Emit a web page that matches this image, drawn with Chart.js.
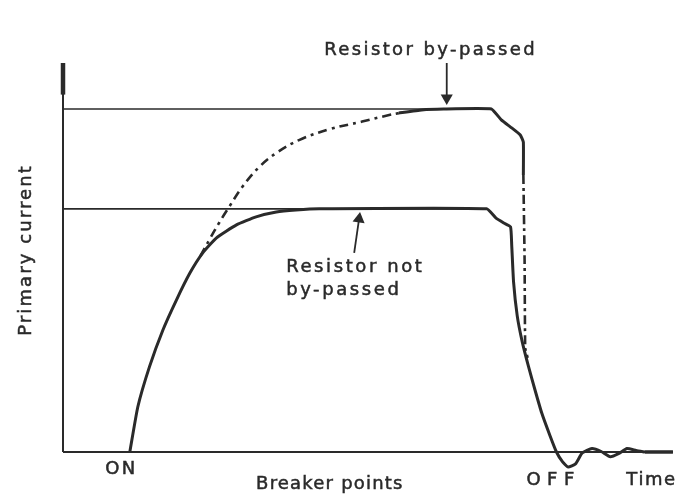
<!DOCTYPE html>
<html lang="en">
<head>
    <meta charset="UTF-8">
    <title>Primary current</title>
    <style>
        body {
            margin: 0;
            background-color: #fff;
        }
        .wrap {
            width: 683px;
            height: 500px;
        }
    </style>
    <script src="https://cdn.jsdelivr.net/npm/chart.js"></script>
</head>
<body>
    <div class="wrap"><canvas id="ignition"></canvas></div>

    <script>
        // Time runs 0..100, current is scaled so the plateau without by-pass sits at 100
        const notBypassedTime    = [10.9, 12.2, 14.1, 16.3, 18.5, 20.7, 22.8, 25.0, 28.3, 31.5, 34.8, 38.0, 41.8, 69.1, 70.6, 71.9, 73.0, 73.2, 73.5, 74.1, 74.9, 75.9, 77.0, 78.1, 79.4, 80.5, 81.5, 82.4, 83.6, 84.7, 86.3, 87.8, 89.3, 90.7, 92.0, 93.5, 94.9];
        const notBypassedCurrent = [0, 18.5, 35.0, 50.2, 62.5, 73.6, 81.9, 88.0, 93.4, 96.7, 98.7, 99.5, 100, 100, 96.3, 94.2, 92.6, 85.1, 70.0, 56.0, 45.5, 35.5, 25.5, 16.0, 7.0, 0, -4.1, -6.2, -4.9, -0.4, 1.4, 0.2, -2.0, -0.6, 1.4, 0.6, 0];

        // by-passed curve: dashed rise, solid top, dashed fall
        const riseTime       = [22.4, 23.9, 25.5, 27.2, 29.3, 32.0, 34.8, 38.5, 43.4, 48.8, 53.2, 54.8];
        const riseCurrent    = [80.6, 87.4, 94.4, 101.2, 109.2, 117.2, 123.0, 128.3, 132.7, 135.9, 138.6, 139.4];
        const topTime        = [54.8, 58.5, 62.1, 69.9, 71.5, 73.2, 74.6, 75.1, 75.1];
        const topCurrent     = [139.4, 140.7, 141.1, 141.1, 136.6, 133.3, 130.4, 127.5, 113.9];
        const fallTime       = [75.1, 75.3, 75.4, 75.8];
        const fallCurrent    = [113.9, 79.0, 42.8, 38.7];

        // steady levels for the two cases
        const levelEnd   = [69.1, 69.9];
        const levelValue = [100, 141.1];

        const axisEnd = [99.5, 160];

        const ink = '#2a2a2a';

        function pts(xs, ys) {
            return xs.map((x, i) => ({ x: x, y: ys[i] }));
        }

        function plain(data, width, extra) {
            return Object.assign({
                data: data,
                borderColor: ink,
                borderWidth: width,
                pointRadius: 0,
                tension: 0,
                fill: false
            }, extra || {});
        }

        // text placed in chart units
        const notes = [
            { text: 'Resistor by-passed', x: 42.6, y: 163.3, spacing: 2.4 },
            { text: 'Resistor not', x: 36.4, y: 74.0, spacing: 2.6 },
            { text: 'by-passed', x: 36.4, y: 64.6, spacing: 2.6 },
            { text: 'ON', x: 6.9, y: -9.0, spacing: 2.2 },
            { text: 'Breaker points', x: 31.5, y: -15.2, spacing: 1.2 },
            { text: 'OFF', x: 75.6, y: -13.6, spacing: 6.5 },
            { text: 'Time', x: 91.9, y: -13.6, spacing: 1.6 },
            { text: 'Primary current', x: -5.2, y: 83.1, spacing: 2.1, rotate: true }
        ];

        const notesPlugin = {
            id: 'notes',
            afterDraw(chart) {
                const ctx = chart.ctx;
                const xs = chart.scales.x;
                const ys = chart.scales.y;
                ctx.save();
                ctx.fillStyle = ink;
                ctx.strokeStyle = ink;
                ctx.lineWidth = 0.5;
                ctx.font = '18px "DejaVu Sans"';
                ctx.textBaseline = 'alphabetic';
                notes.forEach(n => {
                    ctx.letterSpacing = n.spacing + 'px';
                    const px = xs.getPixelForValue(n.x);
                    const py = ys.getPixelForValue(n.y);
                    if (n.rotate) {
                        ctx.save();
                        ctx.translate(px, py);
                        ctx.rotate(-Math.PI / 2);
                        ctx.textAlign = 'center';
                        ctx.fillText(n.text, 0, 0);
                        ctx.strokeText(n.text, 0, 0);
                        ctx.restore();
                    } else {
                        ctx.textAlign = 'left';
                        ctx.fillText(n.text, px, py);
                        ctx.strokeText(n.text, px, py);
                    }
                });
                ctx.restore();
            }
        };

        new Chart(document.getElementById('ignition'), {
            type: 'line',
            data: {
                datasets: [
                    // axes
                    plain([{ x: 0, y: 0 }, { x: axisEnd[0], y: 0 }], 2, { clip: false }),
                    plain([{ x: 0, y: 0 }, { x: 0, y: axisEnd[1] }], 2, { clip: false }),
                    plain([{ x: 0, y: 147 }, { x: 0, y: axisEnd[1] }], 4.5, { clip: false }),
                    plain([{ x: 94.9, y: 0 }, { x: axisEnd[0], y: 0 }], 3.5, { clip: false }),
                    // steady level lines
                    plain([{ x: 0, y: levelValue[0] }, { x: levelEnd[0], y: levelValue[0] }], 1.6),
                    plain([{ x: 0, y: levelValue[1] }, { x: levelEnd[1], y: levelValue[1] }], 1.6),
                    // resistor not by-passed
                    plain(pts(notBypassedTime, notBypassedCurrent), 3, { tension: 0.15, clip: false }),
                    // resistor by-passed
                    plain(pts(riseTime, riseCurrent), 2.6, { tension: 0.4, borderDash: [9, 5, 3, 5] }),
                    plain(pts(topTime, topCurrent), 3, { tension: 0.1 }),
                    plain(pts(fallTime, fallCurrent), 2.6, { tension: 0.1, borderDash: [9, 4, 3, 4] }),
                    // pointer arrows
                    plain([{ x: 62.6, y: 160 }, { x: 62.6, y: 145.6 }], 1.8, {
                        clip: false,
                        pointRadius: [0, 7],
                        pointStyle: 'triangle',
                        pointRotation: 180,
                        pointBackgroundColor: ink,
                        pointBorderWidth: 0
                    }),
                    plain([{ x: 47.5, y: 81.9 }, { x: 48.3, y: 95.9 }], 1.8, {
                        clip: false,
                        pointRadius: [0, 7],
                        pointStyle: 'triangle',
                        pointRotation: 8,
                        pointBackgroundColor: ink,
                        pointBorderWidth: 0
                    })
                ]
            },
            options: {
                responsive: true,
                maintainAspectRatio: false,
                animation: false,
                layout: {
                    padding: { left: 63, right: 5, top: 63, bottom: 23.7 }
                },
                plugins: {
                    legend: { display: false },
                    tooltip: { enabled: false }
                },
                scales: {
                    x: { type: 'linear', min: 0, max: 100, display: false },
                    y: { type: 'linear', min: -10, max: 160, display: false }
                }
            },
            plugins: [notesPlugin]
        });
    </script>
</body>
</html>
